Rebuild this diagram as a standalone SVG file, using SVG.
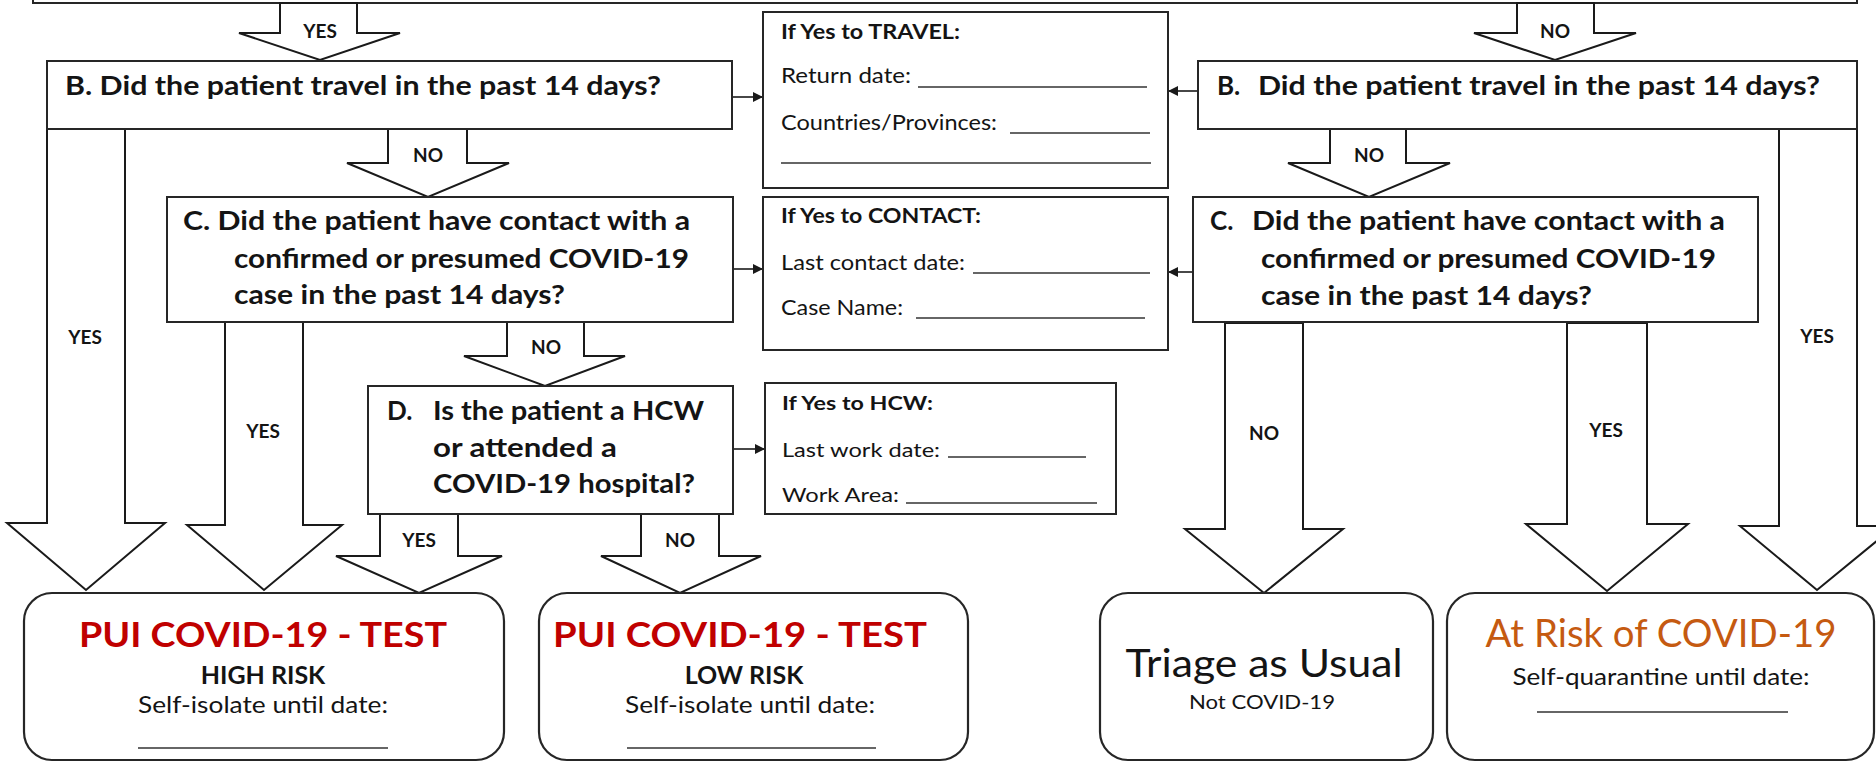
<svg xmlns="http://www.w3.org/2000/svg" width="1876" height="762" viewBox="0 0 1876 762">
<defs>
<style>
.box{fill:#fff;stroke:#262626;stroke-width:2}
.rbox{fill:#fff;stroke:#262626;stroke-width:2.2}
.arr{fill:#fff;stroke:#1a1a1a;stroke-width:2;stroke-linejoin:miter}
.ln{stroke:#1a1a1a;stroke-width:1.6}
.blank{stroke:#333;stroke-width:1.5}
text{font-family:Lato,"Open Sans",sans-serif}
.q{font-weight:700;font-size:26px;fill:#141414}
.lbl{font-weight:700;font-size:19px;fill:#141414;text-anchor:middle}
.ih{font-weight:700;font-size:21px;fill:#141414}
.it{font-weight:400;font-size:21px;fill:#141414}
.hw{font-size:19.5px}
.title{font-weight:700;font-size:34px;fill:#C00000;text-anchor:middle}
.risk{font-weight:700;font-size:25px;fill:#141414;text-anchor:middle}
.sub{font-weight:400;font-size:23px;fill:#141414;text-anchor:middle}
.big{font-weight:400;font-size:38px;fill:#141414;text-anchor:middle}
.orange{fill:#C55A11}
</style>
<marker id="ah" viewBox="0 0 10 10" refX="10" refY="5" markerWidth="10" markerHeight="10" markerUnits="userSpaceOnUse" orient="auto">
<path d="M0,0 L10,5 L0,10 z" fill="#1a1a1a"/>
</marker>
</defs>
<rect width="1876" height="762" fill="#fff"/>

<g id="top-box"><rect class="box" x="33" y="-30" width="1824" height="33"/></g>

<g id="connectors">
<polygon class="arr" points="280,3 280,33 239,33 320,60 400,33 357,33 357,3"/>
<text class="lbl" x="320" y="38">YES</text>
<polygon class="arr" points="1517,3 1517,33 1474,33 1555,60 1636,33 1594,33 1594,3"/>
<text class="lbl" x="1555" y="38">NO</text>
<polygon class="arr" points="388,129 388,163 347,163 428,197 509,163 467,163 467,129"/>
<text class="lbl" x="428" y="162">NO</text>
<polygon class="arr" points="1330,129 1330,163 1288,163 1369,197 1450,163 1406,163 1406,129"/>
<text class="lbl" x="1369" y="162">NO</text>
<polygon class="arr" points="47,129 47,523 7,523 86,590 165,523 125,523 125,129"/>
<text class="lbl" x="85" y="344">YES</text>
<polygon class="arr" points="225,322 225,525 187,525 264,590 342,525 303,525 303,322"/>
<text class="lbl" x="263" y="438">YES</text>
<polygon class="arr" points="507,322 507,356 464,356 545,386 625,356 584,356 584,322"/>
<text class="lbl" x="546" y="354">NO</text>
<polygon class="arr" points="380,514 380,556 336,556 419,593 502,556 458,556 458,514"/>
<text class="lbl" x="419" y="547">YES</text>
<polygon class="arr" points="641,514 641,556 601,556 680,593 761,556 719,556 719,514"/>
<text class="lbl" x="680" y="547">NO</text>
<polygon class="arr" points="1225,323 1225,529 1185,529 1264,593 1343,529 1303,529 1303,323"/>
<text class="lbl" x="1264" y="440">NO</text>
<polygon class="arr" points="1567,323 1567,524 1526,524 1607,591 1688,524 1647,524 1647,323"/>
<text class="lbl" x="1606" y="437">YES</text>
<polygon class="arr" points="1779,129 1779,526 1740,526 1817,590 1895,526 1857,526 1857,129"/>
<text class="lbl" x="1817" y="343">YES</text>
<line class="ln" x1="732" y1="97" x2="763" y2="97" marker-end="url(#ah)"/>
<line class="ln" x1="1198" y1="91" x2="1168" y2="91" marker-end="url(#ah)"/>
<line class="ln" x1="733" y1="269" x2="763" y2="269" marker-end="url(#ah)"/>
<line class="ln" x1="1193" y1="272" x2="1168" y2="272" marker-end="url(#ah)"/>
<line class="ln" x1="733" y1="449" x2="765" y2="449" marker-end="url(#ah)"/>
</g>

<g id="b-left">
<rect class="box" x="47" y="61" width="685" height="68"/>
<text class="q" x="65" y="95" textLength="596" lengthAdjust="spacingAndGlyphs">B. Did the patient travel in the past 14 days?</text>
</g>
<g id="b-right">
<rect class="box" x="1198" y="61" width="659" height="68"/>
<text class="q" x="1217" y="95">B.</text>
<text class="q" x="1258" y="95" textLength="562" lengthAdjust="spacingAndGlyphs">Did the patient travel in the past 14 days?</text>
</g>
<g id="c-left">
<rect class="box" x="167" y="197" width="566" height="125"/>
<text class="q" x="183" y="230" textLength="507" lengthAdjust="spacingAndGlyphs">C. Did the patient have contact with a</text>
<text class="q" x="234" y="268" textLength="455" lengthAdjust="spacingAndGlyphs">confirmed or presumed COVID-19</text>
<text class="q" x="234" y="304" textLength="331" lengthAdjust="spacingAndGlyphs">case in the past 14 days?</text>
</g>
<g id="c-right">
<rect class="box" x="1193" y="197" width="565" height="125"/>
<text class="q" x="1210" y="230">C.</text>
<text class="q" x="1252" y="230" textLength="473" lengthAdjust="spacingAndGlyphs">Did the patient have contact with a</text>
<text class="q" x="1261" y="268" textLength="455" lengthAdjust="spacingAndGlyphs">confirmed or presumed COVID-19</text>
<text class="q" x="1261" y="305" textLength="331" lengthAdjust="spacingAndGlyphs">case in the past 14 days?</text>
</g>
<g id="d-box">
<rect class="box" x="368" y="386" width="365" height="128"/>
<text class="q" x="387" y="420">D.</text>
<text class="q" x="433" y="420" textLength="271" lengthAdjust="spacingAndGlyphs">Is the patient a HCW</text>
<text class="q" x="433" y="457" textLength="184" lengthAdjust="spacingAndGlyphs">or attended a</text>
<text class="q" x="433" y="493" textLength="262" lengthAdjust="spacingAndGlyphs">COVID-19 hospital?</text>
</g>

<g id="travel-info">
<rect class="box" x="763" y="12" width="405" height="176"/>
<text class="ih" x="781" y="39" textLength="179" lengthAdjust="spacingAndGlyphs">If Yes to TRAVEL:</text>
<text class="it" x="781" y="83" textLength="130" lengthAdjust="spacingAndGlyphs">Return date:</text>
<line class="blank" x1="918" y1="87" x2="1147" y2="87"/>
<text class="it" x="781" y="130" textLength="216" lengthAdjust="spacingAndGlyphs">Countries/Provinces:</text>
<line class="blank" x1="1010" y1="133" x2="1150" y2="133"/>
<line class="blank" x1="781" y1="163" x2="1151" y2="163"/>
</g>
<g id="contact-info">
<rect class="box" x="763" y="197" width="405" height="153"/>
<text class="ih" x="781" y="223" textLength="200" lengthAdjust="spacingAndGlyphs">If Yes to CONTACT:</text>
<text class="it" x="781" y="270" textLength="184" lengthAdjust="spacingAndGlyphs">Last contact date:</text>
<line class="blank" x1="973" y1="273" x2="1150" y2="273"/>
<text class="it" x="781" y="315" textLength="122" lengthAdjust="spacingAndGlyphs">Case Name:</text>
<line class="blank" x1="916" y1="318" x2="1145" y2="318"/>
</g>
<g id="hcw-info">
<rect class="box" x="765" y="383" width="351" height="131"/>
<text class="ih hw" x="782" y="410" textLength="151" lengthAdjust="spacingAndGlyphs">If Yes to HCW:</text>
<text class="it hw" x="782" y="457" textLength="158" lengthAdjust="spacingAndGlyphs">Last work date:</text>
<line class="blank" x1="948" y1="457" x2="1086" y2="457"/>
<text class="it hw" x="782" y="502" textLength="117" lengthAdjust="spacingAndGlyphs">Work Area:</text>
<line class="blank" x1="906" y1="503" x2="1097" y2="503"/>
</g>

<g id="out-high">
<rect class="rbox" x="24" y="593" width="480" height="167" rx="28"/>
<text class="title" x="263" y="647" textLength="368" lengthAdjust="spacingAndGlyphs">PUI COVID-19 - TEST</text>
<text class="risk" x="263" y="684">HIGH RISK</text>
<text class="sub" x="263" y="713" textLength="250" lengthAdjust="spacingAndGlyphs">Self-isolate until date:</text>
<line class="blank" x1="138" y1="748" x2="388" y2="748"/>
</g>
<g id="out-low">
<rect class="rbox" x="539" y="593" width="429" height="167" rx="28"/>
<text class="title" x="740" y="647" textLength="374" lengthAdjust="spacingAndGlyphs">PUI COVID-19 - TEST</text>
<text class="risk" x="744" y="684">LOW RISK</text>
<text class="sub" x="750" y="713" textLength="250" lengthAdjust="spacingAndGlyphs">Self-isolate until date:</text>
<line class="blank" x1="627" y1="748" x2="876" y2="748"/>
</g>
<g id="out-triage">
<rect class="rbox" x="1100" y="593" width="333" height="167" rx="28"/>
<text class="big" x="1264" y="677" textLength="277" lengthAdjust="spacingAndGlyphs">Triage as Usual</text>
<text class="sub" x="1262" y="709" style="font-size:20px" textLength="146" lengthAdjust="spacingAndGlyphs">Not COVID-19</text>
</g>
<g id="out-atrisk">
<rect class="rbox" x="1447" y="593" width="427" height="167" rx="28"/>
<text class="big orange" x="1661" y="647" textLength="351" lengthAdjust="spacingAndGlyphs">At Risk of COVID-19</text>
<text class="sub" x="1661" y="685" textLength="297" lengthAdjust="spacingAndGlyphs">Self-quarantine until date:</text>
<line class="blank" x1="1537" y1="712" x2="1788" y2="712"/>
</g>
</svg>
